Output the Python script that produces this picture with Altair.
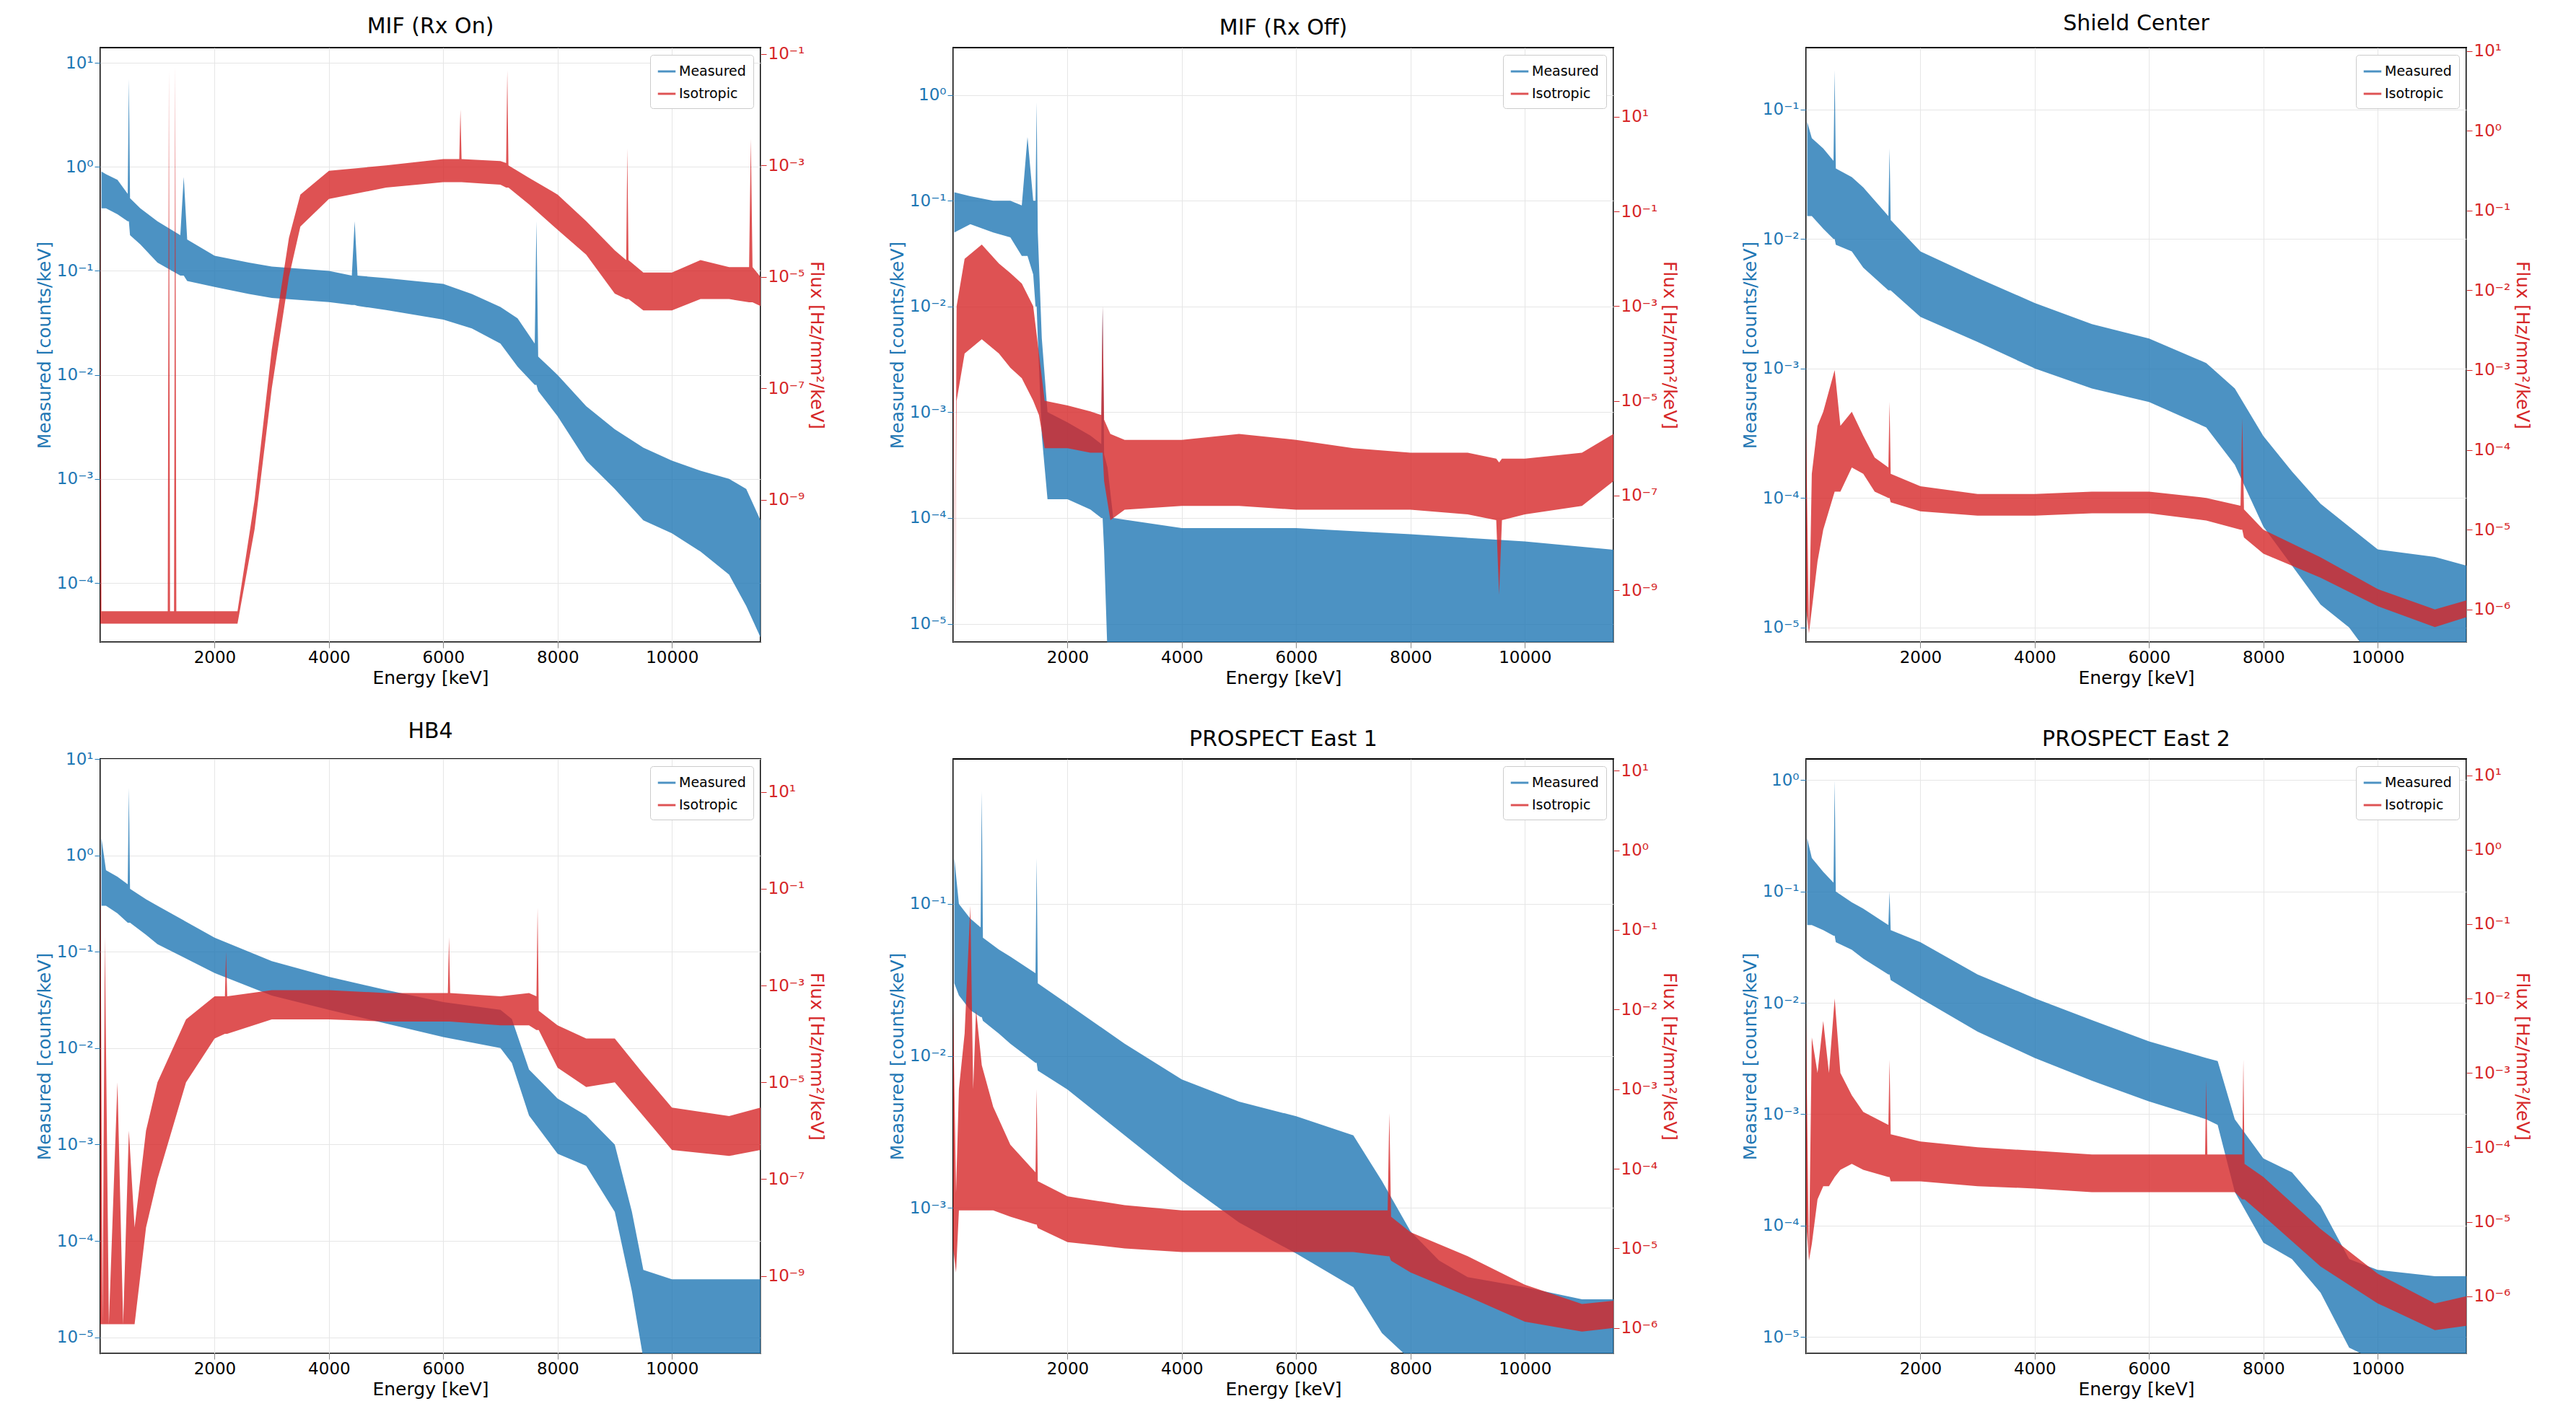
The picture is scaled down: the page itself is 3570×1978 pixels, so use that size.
import altair as alt
import pandas as pd

BLUE = "#1f77b4"
RED = "#d62728"

titles = ["MIF (Rx On)", "MIF (Rx Off)", "Shield Center", "HB4", "PROSPECT East 1", "PROSPECT East 2"]

# --- MIF (Rx On)
m1_E = [20, 100, 300, 480, 500, 520, 700, 1000, 1400, 1460, 1520, 2000, 2600, 3000, 4000, 4400, 4450, 4500, 5000, 6000, 6500, 7000, 7300, 7600, 7630, 7660, 8000, 8500, 9000, 9500, 10000, 10500, 11000, 11300, 11550]
m1_hi = [0.9, 0.85, 0.75, 0.55, 7, 0.5, 0.4, 0.3, 0.22, 0.8, 0.2, 0.14, 0.12, 0.11, 0.1, 0.09, 0.3, 0.09, 0.085, 0.075, 0.06, 0.045, 0.035, 0.02, 0.3, 0.015, 0.01, 0.005, 0.003, 0.002, 0.0015, 0.0012, 0.001, 0.0008, 0.0004]
m1_lo = [0.4, 0.4, 0.35, 0.3, 0.3, 0.22, 0.18, 0.12, 0.09, 0.09, 0.08, 0.07, 0.06, 0.055, 0.05, 0.047, 0.047, 0.046, 0.042, 0.034, 0.028, 0.02, 0.012, 0.008, 0.008, 0.007, 0.004, 0.0015, 0.0008, 0.0004, 0.0003, 0.0002, 0.00012, 0.00006, 0.00003]
i1_E = [0, 20, 40, 1180, 1200, 1220, 1290, 1310, 1330, 2400, 2700, 3000, 3300, 3500, 4000, 5000, 6000, 6280, 6300, 6320, 7000, 7100, 7120, 7140, 7500, 8000, 8500, 9000, 9200, 9220, 9240, 9500, 10000, 10500, 11000, 11350, 11380, 11410, 11550]
i1_hi = [2e-3, 1e-11, 1e-11, 1e-11, 5e-2, 1e-11, 1e-11, 6e-2, 1e-11, 1e-11, 1e-9, 5e-7, 5e-5, 3e-4, 8e-4, 1e-3, 1.3e-3, 1.3e-3, 1e-2, 1.3e-3, 1.2e-3, 1.1e-3, 5e-2, 1e-3, 6e-4, 3e-4, 1e-4, 3e-5, 2e-5, 2e-3, 2e-5, 1.2e-5, 1.2e-5, 2e-5, 1.5e-5, 1.5e-5, 3e-3, 1.5e-5, 1e-5]
i1_lo = [6e-12, 6e-12, 6e-12, 6e-12, 6e-12, 6e-12, 6e-12, 6e-12, 6e-12, 6e-12, 3e-10, 1e-7, 1e-5, 8e-5, 2.5e-4, 4e-4, 5e-4, 5e-4, 5e-4, 5e-4, 4.5e-4, 4e-4, 4e-4, 4e-4, 2e-4, 7e-5, 2.5e-5, 5e-6, 4e-6, 4e-6, 4e-6, 2.5e-6, 2.5e-6, 4e-6, 4e-6, 3.5e-6, 3.5e-6, 3.5e-6, 3e-6]

# --- MIF (Rx Off)
m2_E = [20, 300, 700, 1000, 1200, 1300, 1400, 1440, 1460, 1480, 1550, 1650, 2000, 2400, 2590, 2614, 2640, 2700, 2800, 4000, 6000, 8000, 10000, 11550]
m2_hi = [0.12, 0.11, 0.1, 0.1, 0.09, 0.4, 0.1, 0.1, 0.85, 0.05, 0.005, 1e-3, 8e-4, 6e-4, 5e-4, 1e-2, 4e-4, 3e-4, 1e-4, 8e-5, 8e-5, 7e-5, 6e-5, 5e-5]
m2_lo = [0.05, 0.06, 0.05, 0.045, 0.03, 0.03, 0.02, 0.01, 0.01, 0.005, 6e-4, 1.5e-4, 1.5e-4, 1.2e-4, 1e-4, 1e-4, 5e-5, 5e-6, 5e-6, 5e-6, 5e-6, 5e-6, 5e-6, 5e-6]
i2_E = [0, 30, 60, 200, 500, 800, 1000, 1200, 1400, 1500, 1600, 2000, 2400, 2590, 2614, 2640, 2750, 3000, 4000, 5000, 6000, 7000, 8000, 9000, 9500, 9550, 9600, 10000, 11000, 11550]
i2_hi = [1e-3, 1e-10, 1e-3, 1e-2, 2e-2, 8e-3, 5e-3, 3e-3, 1e-3, 1e-4, 1e-5, 8e-6, 6e-6, 5e-6, 1e-3, 4e-6, 2e-6, 1.5e-6, 1.5e-6, 2e-6, 1.5e-6, 1e-6, 8e-7, 8e-7, 6e-7, 5e-7, 6e-7, 6e-7, 8e-7, 2e-6]
i2_lo = [1e-5, 1e-10, 1e-5, 1e-4, 2e-4, 1e-4, 5e-5, 3e-5, 1e-5, 5e-6, 1e-6, 1e-6, 8e-7, 8e-7, 8e-7, 2e-7, 3e-8, 5e-8, 6e-8, 6e-8, 5e-8, 5e-8, 5e-8, 4e-8, 3e-8, 8e-10, 3e-8, 4e-8, 6e-8, 2e-7]

# --- Shield Center
m3_E = [20, 100, 300, 480, 500, 520, 800, 1000, 1440, 1460, 1480, 2000, 3000, 4000, 5000, 6000, 7000, 7500, 8000, 8500, 9000, 9500, 10000, 11000, 11550]
m3_hi = [0.08, 0.06, 0.05, 0.04, 0.2, 0.035, 0.03, 0.025, 0.015, 0.05, 0.014, 8e-3, 5e-3, 3.2e-3, 2.2e-3, 1.7e-3, 1.1e-3, 7e-4, 3e-4, 1.6e-4, 9e-5, 6e-5, 4e-5, 3.5e-5, 3e-5]
m3_lo = [0.015, 0.015, 0.012, 0.01, 0.01, 0.009, 0.008, 0.006, 0.004, 0.004, 0.004, 2.5e-3, 1.6e-3, 1e-3, 7e-4, 5.5e-4, 3.5e-4, 1.8e-4, 6e-5, 3e-5, 1.5e-5, 1e-5, 5e-6, 5e-6, 5e-6]
i3_E = [0, 50, 100, 200, 300, 500, 600, 800, 1000, 1200, 1440, 1460, 1480, 2000, 3000, 4000, 5000, 6000, 7000, 7600, 7630, 7660, 8000, 9000, 10000, 11000, 11550]
i3_hi = [2e-4, 5e-7, 5e-5, 2e-4, 3e-4, 1e-3, 2e-4, 3e-4, 1.5e-4, 8e-5, 6e-5, 4e-4, 5e-5, 3.5e-5, 2.8e-5, 2.8e-5, 3e-5, 3e-5, 2.5e-5, 2e-5, 2.5e-4, 1.8e-5, 1e-5, 4.5e-6, 1.8e-6, 1e-6, 1.3e-6]
i3_lo = [1e-6, 5e-7, 1e-6, 4e-6, 1e-5, 3e-5, 3e-5, 6e-5, 5e-5, 3e-5, 2.5e-5, 2.5e-5, 2.2e-5, 1.7e-5, 1.5e-5, 1.5e-5, 1.6e-5, 1.6e-5, 1.3e-5, 1e-5, 1e-5, 8e-6, 5e-6, 2.5e-6, 1.1e-6, 6e-7, 8e-7]

# --- HB4
m4_E = [20, 100, 300, 480, 500, 520, 800, 1000, 2000, 3000, 4000, 5000, 6000, 7000, 7200, 7500, 8000, 8500, 9000, 9300, 9500, 10000, 11000, 11550]
m4_hi = [1.5, 0.7, 0.6, 0.5, 5, 0.45, 0.35, 0.3, 0.14, 0.08, 0.055, 0.04, 0.03, 0.025, 0.02, 0.006, 0.003, 0.002, 1e-3, 2e-4, 5e-5, 4e-5, 4e-5, 4e-5]
m4_lo = [0.3, 0.3, 0.25, 0.2, 0.2, 0.2, 0.15, 0.12, 0.06, 0.035, 0.025, 0.018, 0.013, 0.01, 0.007, 0.002, 8e-4, 6e-4, 2e-4, 3e-5, 6e-6, 6e-6, 6e-6, 6e-6]
i4_E = [0, 40, 80, 150, 300, 400, 500, 600, 800, 1000, 1500, 2000, 2180, 2200, 2220, 3000, 4000, 5000, 6080, 6100, 6120, 7000, 7500, 7630, 7650, 7670, 8000, 8500, 9000, 9500, 10000, 11000, 11550]
i4_hi = [1e0, 1e-10, 1e-2, 1e-10, 1e-5, 1e-10, 1e-6, 1e-8, 1e-6, 1e-5, 2e-4, 6e-4, 6e-4, 5e-3, 6e-4, 8e-4, 8e-4, 7e-4, 7e-4, 1e-2, 7e-4, 6e-4, 7e-4, 6e-4, 4e-2, 3e-4, 1.5e-4, 8e-5, 8e-5, 1.5e-5, 3e-6, 2e-6, 3e-6]
i4_lo = [1e-10, 1e-10, 1e-10, 1e-10, 1e-10, 1e-10, 1e-10, 1e-10, 1e-8, 1e-7, 1e-5, 8e-5, 1e-4, 1e-4, 1e-4, 2e-4, 2e-4, 1.8e-4, 1.8e-4, 1.8e-4, 1.8e-4, 1.5e-4, 1.5e-4, 1.2e-4, 1.2e-4, 1.2e-4, 2e-5, 8e-6, 1e-5, 2e-6, 4e-7, 3e-7, 4e-7]

# --- PROSPECT East 1
m5_E = [20, 100, 300, 480, 500, 520, 800, 1000, 1440, 1460, 1480, 2000, 3000, 4000, 5000, 6000, 7000, 7500, 8000, 8500, 9000, 10000, 11000, 11550]
m5_hi = [0.2, 0.1, 0.08, 0.07, 0.55, 0.06, 0.05, 0.045, 0.035, 0.2, 0.03, 0.022, 0.012, 7e-3, 5e-3, 4e-3, 3e-3, 1.5e-3, 7e-4, 4.5e-4, 3.5e-4, 3e-4, 2.5e-4, 2.5e-4]
m5_lo = [0.03, 0.025, 0.02, 0.018, 0.018, 0.017, 0.014, 0.012, 0.009, 0.009, 0.008, 6e-3, 3e-3, 1.5e-3, 8e-4, 5e-4, 3e-4, 1.5e-4, 1e-4, 1e-4, 1e-4, 1e-4, 1e-4, 1e-4]
i5_E = [0, 50, 100, 200, 300, 350, 400, 500, 700, 1000, 1440, 1460, 1480, 2000, 3000, 4000, 5000, 6000, 7000, 7600, 7630, 7660, 8000, 9000, 10000, 11000, 11550]
i5_hi = [1e-2, 5e-5, 1e-3, 5e-3, 2e-1, 1e-3, 1e-2, 2e-3, 6e-4, 2e-4, 9e-5, 1e-3, 7e-5, 4.5e-5, 3.5e-5, 3e-5, 3e-5, 3e-5, 3e-5, 3e-5, 5e-4, 2.5e-5, 1.6e-5, 8e-6, 3.5e-6, 2e-6, 2.2e-6]
i5_lo = [1e-5, 5e-6, 3e-5, 3e-5, 3e-5, 3e-5, 3e-5, 3e-5, 3e-5, 2.5e-5, 2e-5, 2e-5, 1.8e-5, 1.2e-5, 1e-5, 9e-6, 9e-6, 9e-6, 9e-6, 8e-6, 8e-6, 7e-6, 5e-6, 2.5e-6, 1.2e-6, 9e-7, 1e-6]

# --- PROSPECT East 2
m6_E = [20, 100, 300, 480, 500, 520, 800, 1000, 1440, 1460, 1480, 2000, 3000, 4000, 5000, 6000, 7000, 7200, 7500, 8000, 8500, 9000, 9500, 10000, 11000, 11550]
m6_hi = [0.3, 0.2, 0.15, 0.12, 1.0, 0.1, 0.08, 0.07, 0.05, 0.1, 0.045, 0.035, 0.018, 0.011, 7e-3, 4.5e-3, 3.2e-3, 3e-3, 9e-4, 4e-4, 3e-4, 1.5e-4, 5e-5, 4e-5, 3.5e-5, 3.5e-5]
m6_lo = [0.05, 0.05, 0.045, 0.04, 0.04, 0.035, 0.03, 0.025, 0.018, 0.018, 0.016, 0.011, 5.5e-3, 3.2e-3, 2e-3, 1.3e-3, 9e-4, 8e-4, 2e-4, 7e-5, 5e-5, 2.5e-5, 8e-6, 6e-6, 6e-6, 6e-6]
i6_E = [0, 50, 100, 200, 300, 400, 500, 600, 800, 1000, 1440, 1460, 1480, 2000, 3000, 4000, 5000, 6000, 6980, 7000, 7020, 7500, 7630, 7650, 7670, 8000, 9000, 10000, 11000, 11550]
i6_hi = [5e-3, 3e-6, 3e-3, 1e-3, 5e-3, 1e-3, 1e-2, 1e-3, 5e-4, 3e-4, 2e-4, 1.5e-3, 1.5e-4, 1.2e-4, 1e-4, 9e-5, 8e-5, 8e-5, 8e-5, 8e-4, 8e-5, 8e-5, 8e-5, 1.5e-3, 6e-5, 4e-5, 8e-6, 2e-6, 8e-7, 1e-6]
i6_lo = [1e-5, 3e-6, 5e-6, 2e-5, 3e-5, 3e-5, 4e-5, 5e-5, 6e-5, 5e-5, 4e-5, 4e-5, 3.5e-5, 3.5e-5, 3e-5, 2.8e-5, 2.5e-5, 2.5e-5, 2.5e-5, 2.5e-5, 2.5e-5, 2.5e-5, 2e-5, 2e-5, 2e-5, 1.2e-5, 2.5e-6, 8e-7, 3.5e-7, 4e-7]

# axis ranges and tick exponents (left = measured, right = isotropic)
left_dom = [[2.7e-5, 14], [6.7e-6, 2.8], [7.7e-6, 0.3], [6.8e-6, 10], [1.1e-4, 0.9], [7.1e-6, 1.55]]
right_dom = [[2.8e-12, 0.13], [8e-11, 290], [3.9e-7, 11], [2.5e-11, 48], [4.8e-7, 14], [1.7e-7, 16.6]]
left_exp = [[-4, -3, -2, -1, 0, 1], [-5, -4, -3, -2, -1, 0], [-5, -4, -3, -2, -1], [-5, -4, -3, -2, -1, 0, 1], [-3, -2, -1], [-5, -4, -3, -2, -1, 0]]
right_exp = [[-9, -7, -5, -3, -1], [-9, -7, -5, -3, -1, 1], [-6, -5, -4, -3, -2, -1, 0, 1], [-9, -7, -5, -3, -1, 1], [-6, -5, -4, -3, -2, -1, 0, 1], [-6, -5, -4, -3, -2, -1, 0, 1]]

measured = [(m1_E, m1_hi, m1_lo), (m2_E, m2_hi, m2_lo), (m3_E, m3_hi, m3_lo),
            (m4_E, m4_hi, m4_lo), (m5_E, m5_hi, m5_lo), (m6_E, m6_hi, m6_lo)]
isotropic = [(i1_E, i1_hi, i1_lo), (i2_E, i2_hi, i2_lo), (i3_E, i3_hi, i3_lo),
             (i4_E, i4_hi, i4_lo), (i5_E, i5_hi, i5_lo), (i6_E, i6_hi, i6_lo)]

SUP = str.maketrans("-0123456789", "⁻⁰¹²³⁴⁵⁶⁷⁸⁹")


def log_labels(exps):
    expr = "''"
    for e in exps:
        expr = f"round(log(datum.value)/LN10)=={e} ? '10{str(e).translate(SUP)}' : " + expr
    return expr


W, H = 915, 824

color = alt.Color("series:N",
                  scale=alt.Scale(domain=["Measured", "Isotropic"], range=[BLUE, RED]),
                  legend=alt.Legend(orient="top-right", title=None, symbolType="M-1,-0.12H1V0.12H-1Z",
                                    symbolSize=600, labelFontSize=19, fillColor="white",
                                    strokeColor="#cccccc", padding=10, cornerRadius=4,
                                    offset=10, rowPadding=8))

xenc = alt.X("E:Q", scale=alt.Scale(domain=[0, 11550], nice=False),
             axis=alt.Axis(title="Energy [keV]", values=[2000, 4000, 6000, 8000, 10000], format="d",
                           labelFontSize=23, titleFontSize=25, titleFontWeight="normal",
                           gridColor="#e6e6e6", tickSize=8, labelColor="black", titleColor="black"))


def panel(k):
    mE, mhi, mlo = measured[k]
    iE, ihi, ilo = isotropic[k]
    dm = pd.DataFrame({"E": mE, "hi": mhi, "lo": mlo, "series": "Measured"})
    di = pd.DataFrame({"E": iE, "hi": ihi, "lo": ilo, "series": "Isotropic"})
    left = alt.Chart(dm).mark_area(opacity=0.8, clip=True).encode(
        x=xenc,
        y=alt.Y("hi:Q", scale=alt.Scale(type="log", domain=left_dom[k], nice=False),
                axis=alt.Axis(title="Measured [counts/keV]", values=[10.0 ** e for e in left_exp[k]],
                              labelExpr=log_labels(left_exp[k]), labelColor=BLUE, titleColor=BLUE,
                              labelFontSize=23, titleFontSize=25, titleFontWeight="normal",
                              gridColor="#e6e6e6", tickColor=BLUE, tickSize=8)),
        y2="lo:Q",
        color=color,
    )
    right = alt.Chart(di).mark_area(opacity=0.8, clip=True).encode(
        x=xenc,
        y=alt.Y("hi:Q", scale=alt.Scale(type="log", domain=right_dom[k], nice=False),
                axis=alt.Axis(title="Flux [Hz/mm²/keV]", orient="right", grid=False,
                              values=[10.0 ** e for e in right_exp[k]],
                              labelExpr=log_labels(right_exp[k]), labelColor=RED, titleColor=RED,
                              labelFontSize=23, titleFontSize=25, titleFontWeight="normal",
                              tickColor=RED, tickSize=8)),
        y2="lo:Q",
        color=color,
    )
    return alt.layer(left, right).resolve_scale(y="independent").properties(
        width=W, height=H,
        title=alt.TitleParams(titles[k], fontSize=30, fontWeight="normal", offset=12))


row1 = alt.hconcat(panel(0), panel(1), panel(2), spacing=85).resolve_scale(color="independent")
row2 = alt.hconcat(panel(3), panel(4), panel(5), spacing=85).resolve_scale(color="independent")
chart = alt.vconcat(row1, row2, spacing=45).resolve_scale(color="independent").properties(
    padding={"left": 40, "top": 8, "right": 5, "bottom": 5}
).configure(
    font="DejaVu Sans"
).configure_view(stroke="black", strokeWidth=2)

chart.save("out.html", embed_options={"renderer": "svg", "actions": False})
